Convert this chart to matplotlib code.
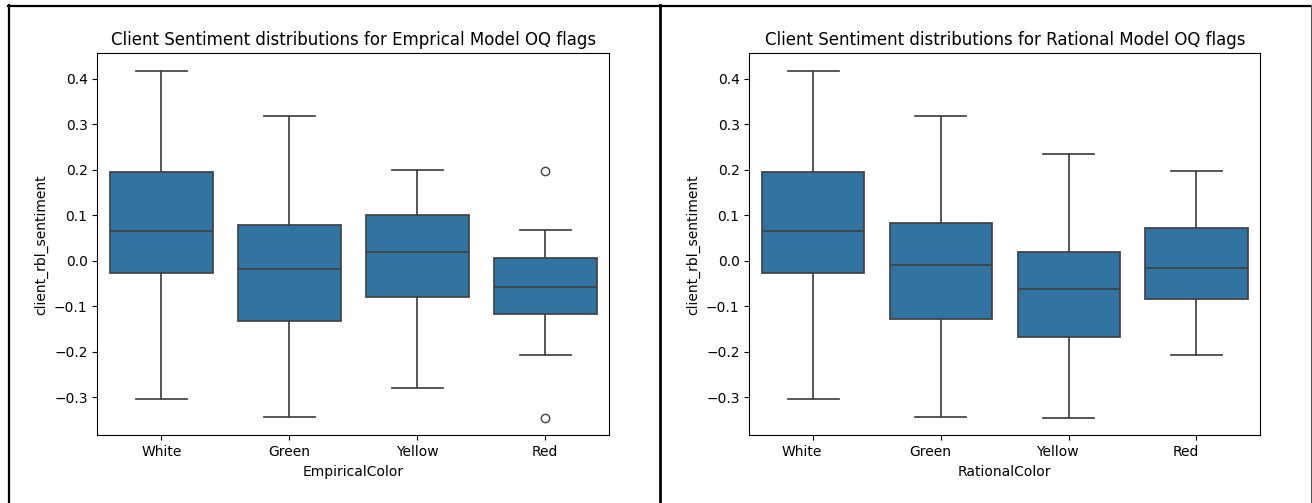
import matplotlib
matplotlib.use("Agg")
import matplotlib.pyplot as plt
import matplotlib.transforms as mtransforms
from matplotlib.lines import Line2D

categories = ["White", "Green", "Yellow", "Red"]

# Empirical model box statistics
emp_whislo = [-0.304, -0.343, -0.280, -0.207]
emp_q1 = [-0.027, -0.132, -0.080, -0.117]
emp_med = [0.065, -0.018, 0.018, -0.057]
emp_q3 = [0.196, 0.079, 0.101, 0.005]
emp_whishi = [0.418, 0.318, 0.199, 0.068]
emp_fliers = [[], [], [], [0.197, -0.346]]

# Rational model box statistics
rat_whislo = [-0.304, -0.343, -0.345, -0.207]
rat_q1 = [-0.027, -0.127, -0.168, -0.084]
rat_med = [0.065, -0.010, -0.062, -0.016]
rat_q3 = [0.196, 0.084, 0.020, 0.072]
rat_whishi = [0.418, 0.318, 0.234, 0.197]
rat_fliers = [[], [], [], []]

W, H = 1312, 503
fig = plt.figure(figsize=(W / 100, H / 100), dpi=100)

box_face = "#3274a1"
line_c = "#424242"


def make_stats(lo, q1, med, q3, hi, fl):
    return [dict(whislo=a, q1=b, med=c, q3=d, whishi=e, fliers=f)
            for a, b, c, d, e, f in zip(lo, q1, med, q3, hi, fl)]


def draw(ax, stats, xlabel, title):
    ax.bxp(stats, positions=range(len(categories)), widths=0.8, capwidths=0.4,
           patch_artist=True, showfliers=True,
           boxprops=dict(facecolor=box_face, edgecolor=line_c, linewidth=1.25),
           medianprops=dict(color=line_c, linewidth=1.25),
           whiskerprops=dict(color=line_c, linewidth=1.25),
           capprops=dict(color=line_c, linewidth=1.25),
           flierprops=dict(marker="o", markerfacecolor="none",
                           markeredgecolor=line_c, markersize=6, linewidth=0))
    ax.set_xlim(-0.5, len(categories) - 0.5)
    ax.set_xticks(range(len(categories)))
    ax.set_xticklabels(categories)
    ax.set_xlabel(xlabel)
    ax.set_ylabel("client_rbl_sentiment")
    ax.set_title(title)


ax_bottom = (H - 435.3) / H
ax_h = 382 / H
ax1 = fig.add_axes([97.3 / W, ax_bottom, 512 / W, ax_h])
ax2 = fig.add_axes([749.3 / W, ax_bottom, 511 / W, ax_h])

draw(ax1, make_stats(emp_whislo, emp_q1, emp_med, emp_q3, emp_whishi, emp_fliers),
     "EmpiricalColor", "Client Sentiment distributions for Emprical Model OQ flags")
draw(ax2, make_stats(rat_whislo, rat_q1, rat_med, rat_q3, rat_whishi, rat_fliers),
     "RationalColor", "Client Sentiment distributions for Rational Model OQ flags")

# shift right panel tick labels slightly left as in the reference screenshot
offset = mtransforms.ScaledTranslation(-11 / 100, 0, fig.dpi_scale_trans)
for lbl in ax2.get_xticklabels():
    lbl.set_transform(lbl.get_transform() + offset)

# Screenshot borders
def fx(px):
    return px / W


def fy(py):
    return 1 - py / H


fig.add_artist(Line2D([fx(7.5), fx(1312)], [fy(6), fy(6)], color="black",
                      linewidth=1.6, transform=fig.transFigure))
fig.add_artist(Line2D([fx(8.5), fx(8.5)], [fy(5), fy(503)], color="black",
                      linewidth=1.6, transform=fig.transFigure))
fig.add_artist(Line2D([fx(660), fx(660)], [fy(5), fy(503)], color="black",
                      linewidth=2.0, transform=fig.transFigure))
fig.add_artist(Line2D([fx(1311), fx(1311)], [fy(5), fy(503)], color="#555555",
                      linewidth=0.8, transform=fig.transFigure))

fig.savefig("out.png", dpi=100)
